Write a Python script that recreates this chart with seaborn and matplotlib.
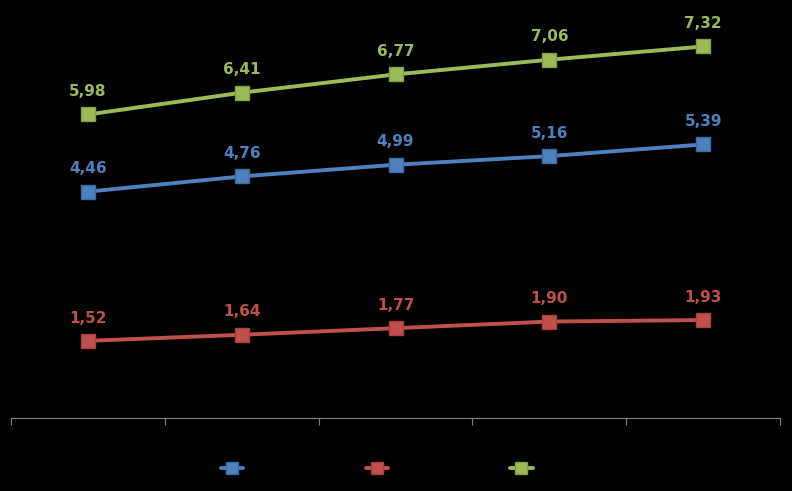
import matplotlib
matplotlib.use("Agg")
import matplotlib.pyplot as plt
import seaborn as sns
import pandas as pd
import numpy as np

categories = ["1", "2", "3", "4", "5"]
series_names = ["Series 1", "Series 2", "Series 3"]
blue_values = [4.46, 4.76, 4.99, 5.16, 5.39]
red_values = [1.52, 1.64, 1.77, 1.90, 1.93]
green_values = [5.98, 6.41, 6.77, 7.06, 7.32]
colors = ["#4F81BD", "#C0504D", "#9BBB59"]
edge_colors = ["#3A6CA8", "#A8403D", "#82A040"]

rows = []
for name, vals in zip(series_names, [blue_values, red_values, green_values]):
    for i, v in enumerate(vals):
        rows.append({"x": i, "value": v, "series": name})
df = pd.DataFrame(rows)

sns.set_theme(style="white")
plt.rcParams['font.family'] = ['DejaVu Sans']

fig = plt.figure(figsize=(7.92, 4.91), dpi=100, facecolor="black")
ax = fig.add_axes([0.0139, 0.1487, 0.9710, 0.8269])
ax.set_facecolor("black")

sns.lineplot(data=df, x="x", y="value", hue="series", palette=colors,
             linewidth=2.8, marker="s", markersize=10, markeredgewidth=1.0,
             ax=ax, legend=False)
for line, ec in zip(ax.get_lines(), edge_colors):
    line.set_markeredgecolor(ec)

for vals, c in zip([blue_values, red_values, green_values], colors):
    for i, v in enumerate(vals):
        ax.annotate(f"{v:.2f}".replace(".", ","), (i, v), xytext=(0, 11),
                    textcoords="offset points", ha="center", va="bottom",
                    color=c, fontsize=11, fontweight="bold")

ax.set_xlim(-0.5, 4.5)
ax.set_ylim(0, 8)
ax.set_xticks(np.arange(-0.5, 5.0, 1.0))
ax.set_xticklabels([])
ax.tick_params(axis="x", bottom=True, length=5, color="#808080", width=0.8)
ax.set_yticks([])
ax.set_xlabel("")
ax.set_ylabel("")
for s in ["top", "right", "left"]:
    ax.spines[s].set_visible(False)
ax.spines["bottom"].set_color("#808080")
ax.spines["bottom"].set_linewidth(0.8)

from matplotlib.lines import Line2D
handles = [Line2D([0], [0], color=c, lw=2.8, marker="s", markersize=8,
                  markeredgecolor=ec) for c, ec in zip(colors, edge_colors)]
leg = fig.legend(handles, series_names, loc="center", bbox_to_anchor=(0.518, 0.045),
                 ncol=3, frameon=False, handlelength=1.6, columnspacing=4.0,
                 fontsize=10, labelcolor="black")

fig.savefig("out.png", dpi=100, facecolor="black")
